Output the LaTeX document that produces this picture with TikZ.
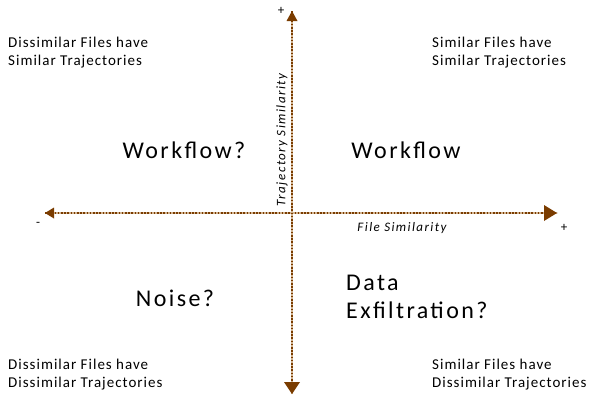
\documentclass[tikz,border=0pt]{standalone}
\usepackage{fontspec}
\setmainfont{Carlito}
\newfontfamily\notefont[LetterSpace=6.7]{Carlito}
\newfontfamily\quadfont[LetterSpace=10]{Carlito}
\newfontfamily\labelfont[LetterSpace=11]{Carlito}
\definecolor{axisbrown}{RGB}{122,60,0}
\definecolor{axislight}{RGB}{210,180,145}
\tikzset{
  axis/.style={line width=2.2pt, axislight},
  axisdots/.style={line width=2.2pt, axisbrown, dash pattern=on 1.6pt off 1.6pt},
  head/.style={axisbrown, fill=axisbrown, line width=0pt},
  corner/.style={font=\notefont\fontsize{15}{18.5}\selectfont, align=left, anchor=base west, inner sep=0pt},
  quad/.style={font=\quadfont\fontsize{24}{28}\selectfont, inner sep=0pt},
  axlabel/.style={font=\labelfont\fontsize{13}{15}\selectfont\itshape, inner sep=0pt},
  sign/.style={font=\fontsize{13}{15}\selectfont, inner sep=0pt}
}
\begin{document}
\begin{tikzpicture}[x=1pt,y=-1pt]
\useasboundingbox (0,0) rectangle (591,397);
% axis end points (arrow tips)
\coordinate (L) at (45,213);
\coordinate (R) at (557,213);
\coordinate (T) at (292,11);
\coordinate (B) at (292,394);
% dotted axes
\draw[axis] (L) -- (R);
\draw[axisdots] (L) -- (R);
\draw[axis] (T) -- (B);
\draw[axisdots] (T) -- (B);
% arrowheads
\fill[head] (R) -- ++(-13,-8) -- ++(0,16) -- cycle;
\fill[head] (L) -- ++(9,-5.5) -- ++(0,11) -- cycle;
\fill[head] (T) -- ++(-5.5,10) -- ++(11,0) -- cycle;
\fill[head] (B) -- ++(-8,-12) -- ++(16,0) -- cycle;
% signs
\node[sign] (plustop) at (281,11) {+};
\node[sign] (minus) at (38,224) {-};
\node[sign] (plusright) at (564,228) {+};
% axis labels
\node[axlabel, rotate=90] (ylab) at (282,140) {Trajectory Similarity};
\node[axlabel] (xlab) at (402,228) {File Similarity};
% corner notes (anchored at the baseline of the second line)
\node[corner] (tl) at (8,65.5) {Dissimilar Files have\\Similar Trajectories};
\node[corner] (tr) at (432,65.5) {Similar Files have\\Similar Trajectories};
\node[corner] (bl) at (8,387.5) {Dissimilar Files have\\Dissimilar Trajectories};
\node[corner] (br) at (432,387.5) {Similar Files have\\Dissimilar Trajectories};
% quadrant names
\node[quad] (wfq) at (184,150) {Workflow?};
\node[quad] (wf) at (406,150) {Workflow};
\node[quad] (noise) at (175,298) {Noise?};
\node[quad, align=left, anchor=base west] (exfil) at (346,318) {Data\\Exfiltration?};
\end{tikzpicture}
\end{document}
